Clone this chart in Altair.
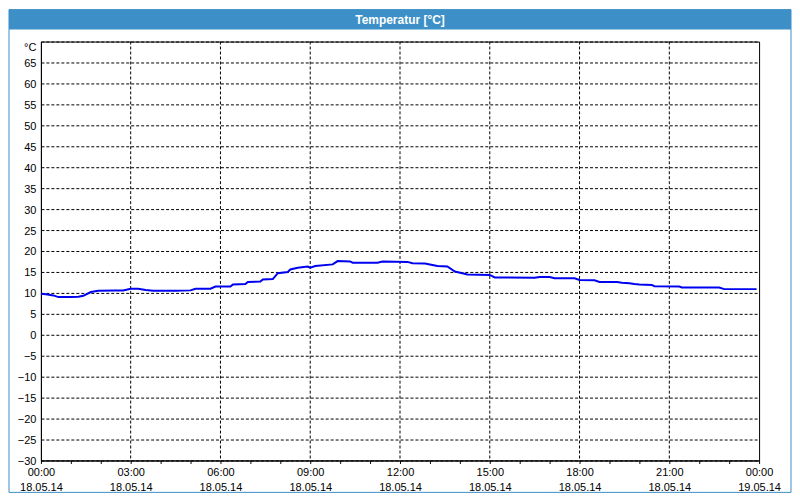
import altair as alt
import pandas as pd

title_text = "Temperatur [°C]"
unit_label = "°C"
date_labels = ["18.05.14", "19.05.14"]

times = ["00:00", "00:10", "00:25", "00:35", "01:00", "01:15", "01:25", "01:40",
         "01:55", "02:30", "02:45", "03:00", "03:15", "03:30", "03:45", "04:30",
         "05:00", "05:10", "05:40", "05:50", "06:20", "06:25", "06:50", "06:55",
         "07:20", "07:25", "07:45", "07:55", "08:15", "08:20", "08:35", "08:55",
         "09:00", "09:10", "09:45", "09:55", "10:20", "10:25", "11:15", "11:25",
         "12:15", "12:25", "12:50", "13:00", "13:15", "13:35", "13:50", "14:05",
         "14:15", "15:00", "15:10", "16:30", "16:40", "17:00", "17:10", "17:50",
         "18:00", "18:30", "18:40", "19:15", "19:25", "19:40", "19:50", "20:00",
         "20:25", "20:30", "21:20", "21:25", "22:40", "22:50", "23:55"]
temps = [9.8, 9.7, 9.4, 9.0, 9.0, 9.1, 9.3, 10.2,
         10.5, 10.6, 10.6, 11.0, 11.0, 10.7, 10.5, 10.5,
         10.6, 11.0, 11.0, 11.5, 11.5, 12.0, 12.1, 12.6,
         12.7, 13.2, 13.3, 14.7, 15.0, 15.6, 16.0, 16.3,
         16.0, 16.4, 16.8, 17.6, 17.5, 17.2, 17.2, 17.5,
         17.4, 17.1, 17.0, 16.8, 16.4, 16.3, 15.1, 14.7,
         14.4, 14.3, 13.7, 13.6, 13.8, 13.8, 13.5, 13.5,
         13.1, 13.0, 12.6, 12.6, 12.4, 12.3, 12.1, 12.0,
         11.9, 11.6, 11.5, 11.3, 11.3, 10.9, 10.9]

grid_hours = [3, 6, 9, 12, 15, 18, 21]
x_tick_hours = list(range(0, 25))
y_tick_values = list(range(-30, 75, 5))

hours = [int(t[:2]) + int(t[3:]) / 60 for t in times]
df = pd.DataFrame({"h": hours, "temp": temps})
grid_df = pd.DataFrame({"h": grid_hours})
deco_df = pd.DataFrame({"label": [title_text]})

W, H = 720, 420
FONT = "Liberation Sans, Arial, sans-serif"
BLUE = "#3d8fc7"

x_label_expr = (
    "datum.value % 3 == 0 ? [format(datum.value % 24, '02d') + ':00', "
    f"datum.value < 24 ? '{date_labels[0]}' : '{date_labels[1]}'] : ''"
)

x_axis = alt.Axis(
    values=x_tick_hours, grid=False, title=None, labelExpr=x_label_expr,
    tickSize=3, tickColor="black", domainColor="black", labelColor="black",
    labelFont=FONT, labelFontSize=11, labelPadding=3, labelLineHeight=15,
    labelFlush=False, labelOverlap=False, labelBaseline="top",
)
x_scale = alt.Scale(domain=[0, 24], nice=False, zero=False)

y_axis = alt.Axis(
    values=y_tick_values, title=None, ticks=False, grid=True,
    gridColor="black", gridDash=[3, 2], gridOpacity=1, gridWidth=1,
    domainColor="black", labelColor="black", labelFont=FONT, labelFontSize=11,
    labelPadding=5,
    labelExpr=f"datum.value == 70 ? '{unit_label}' : datum.label",
    labelOffset={"condition": {"test": "datum.value == 70", "value": 6}, "value": 1},
)
y_scale = alt.Scale(domain=[-30, 70], nice=False, zero=False)

title_bar = alt.Chart(deco_df).mark_rect(fill=BLUE).encode(
    x=alt.value(-32), x2=alt.value(W + 32), y=alt.value(-32), y2=alt.value(-12)
)
frame = alt.Chart(deco_df).mark_rect(fill=None, stroke=BLUE, strokeWidth=1).encode(
    x=alt.value(-32), x2=alt.value(W + 32), y=alt.value(-32), y2=alt.value(H + 32)
)
title_mark = alt.Chart(deco_df).mark_text(
    color="white", font=FONT, fontSize=12, fontWeight="bold",
    align="center", baseline="middle",
).encode(x=alt.value(W / 2), y=alt.value(-22), text="label:N")

vgrid = alt.Chart(grid_df).mark_rule(color="black", strokeDash=[3, 2], strokeWidth=1).encode(
    x=alt.X("h:Q", scale=x_scale, axis=x_axis)
)

line = alt.Chart(df).mark_line(color="#0000f0", strokeWidth=2).encode(
    x=alt.X("h:Q", scale=x_scale, axis=x_axis),
    y=alt.Y("temp:Q", scale=y_scale, axis=y_axis),
)

chart = alt.layer(title_bar, frame, title_mark, vgrid, line).properties(
    width=W, height=H,
    background="white",
    padding=0,
).configure_view(stroke="black", strokeWidth=1)

chart.save("out.html", embed_options={"renderer": "svg", "actions": False})
